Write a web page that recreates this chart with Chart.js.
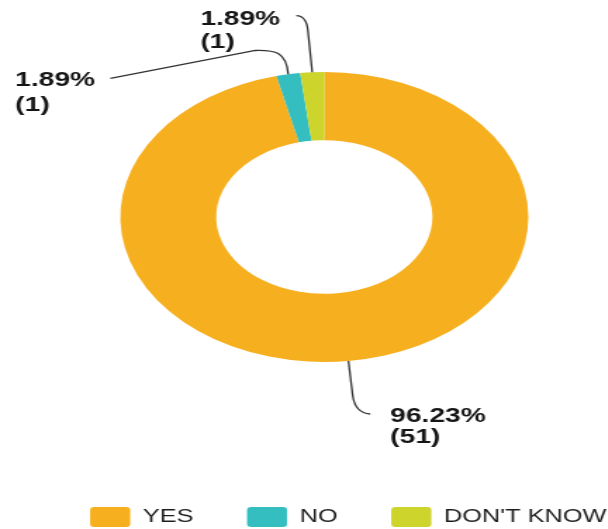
<!DOCTYPE html>
<html>
<head>
<meta charset="utf-8">
<script src="https://cdn.jsdelivr.net/npm/chart.js@4/dist/chart.umd.min.js"></script>
<style>
  html, body { margin: 0; padding: 0; background: #ffffff; overflow: hidden; }
  #stage { position: relative; width: 608px; height: 529px; overflow: hidden; background: #ffffff; }
  /* the chart is drawn narrow and then stretched horizontally */
  #wrap { position: absolute; left: 0; top: 0; width: 477px; height: 572px;
          transform-origin: 0 0; transform: translate(-11.26px, -35px) scale(1.407, 1); }
  #chart { display: block; }
</style>
</head>
<body>
<div id="stage">
  <div id="wrap"><canvas id="chart" width="477" height="572"></canvas></div>
</div>
<script>
// Survey answers
const categories = ['YES', 'NO', "DON'T KNOW"];
const counts = [51, 1, 1];
const sliceColors = ['#F6AF1F', '#35BEBF', '#CDD42B'];

// Leader line and label geometry per slice, relative to the slice's outer mid point
const LABEL_LAYOUT = [
  { // YES: line drops down, bends right to the label
    path: [['L', 3.06, 35], ['Q', 4.83, 52, 15.5, 53]],
    text: [29.7, 61], line2: 82.5
  },
  { // NO: line rises, bends left and runs to the label
    path: [['C', -1.35, -22.3, -9.2, -24.3, -23.4, -23.8], ['L', -126.4, 4.2]],
    text: [-194, 11.7], line2: 37
  },
  { // DON'T KNOW: line rises and hooks left to the label
    path: [['L', -3.13, -42.3], ['Q', -4.19, -56.3, -11.3, -56.6]],
    text: [-79.5, -47.3], line2: -24
  }
];

const leaderLabels = {
  id: 'leaderLabels',
  afterDatasetsDraw(chart) {
    const ctx = chart.ctx;
    const meta = chart.getDatasetMeta(0);
    const data = chart.data.datasets[0].data;
    const total = data.reduce((a, b) => a + b, 0);
    ctx.save();
    meta.data.forEach((arc, i) => {
      const p = arc.getProps(['x', 'y', 'startAngle', 'endAngle', 'outerRadius'], true);
      const mid = (p.startAngle + p.endAngle) / 2;
      const ax = p.x + Math.cos(mid) * p.outerRadius;
      const ay = p.y + Math.sin(mid) * p.outerRadius;
      const lay = LABEL_LAYOUT[i];

      ctx.beginPath();
      ctx.moveTo(ax, ay);
      lay.path.forEach(seg => {
        const v = seg.slice(1);
        if (seg[0] === 'L') ctx.lineTo(ax + v[0], ay + v[1]);
        else if (seg[0] === 'Q') ctx.quadraticCurveTo(ax + v[0], ay + v[1], ax + v[2], ay + v[3]);
        else ctx.bezierCurveTo(ax + v[0], ay + v[1], ax + v[2], ay + v[3], ax + v[4], ay + v[5]);
      });
      ctx.strokeStyle = '#333333';
      ctx.lineWidth = 1.3;
      ctx.stroke();

      const pct = (data[i] / total * 100).toFixed(2) + '%';
      ctx.fillStyle = '#151515';
      ctx.font = 'bold 20px "Liberation Sans", Arial, sans-serif';
      ctx.textAlign = 'left';
      ctx.textBaseline = 'alphabetic';
      ctx.fillText(pct, ax + lay.text[0], ay + lay.text[1]);
      ctx.fillText('(' + data[i] + ')', ax + lay.text[0], ay + lay.line2);
    });
    ctx.restore();
  }
};

new Chart(document.getElementById('chart'), {
  type: 'doughnut',
  data: {
    labels: categories,
    datasets: [{
      data: counts,
      backgroundColor: sliceColors,
      borderWidth: 0,
      radius: 145,
      cutout: '53%'
    }]
  },
  options: {
    responsive: false,
    animation: false,
    devicePixelRatio: 1,
    layout: { padding: { top: 0, bottom: 0, left: 0, right: 0 } },
    plugins: {
      tooltip: { enabled: false },
      legend: {
        position: 'bottom',
        align: 'end',
        labels: {
          boxWidth: 28.5,
          boxHeight: 20,
          padding: 38,
          useBorderRadius: true,
          borderRadius: 3,
          color: '#1e1e1e',
          font: { family: '"Liberation Sans", Arial, sans-serif', size: 18 }
        }
      }
    }
  },
  plugins: [leaderLabels]
});
</script>
</body>
</html>
